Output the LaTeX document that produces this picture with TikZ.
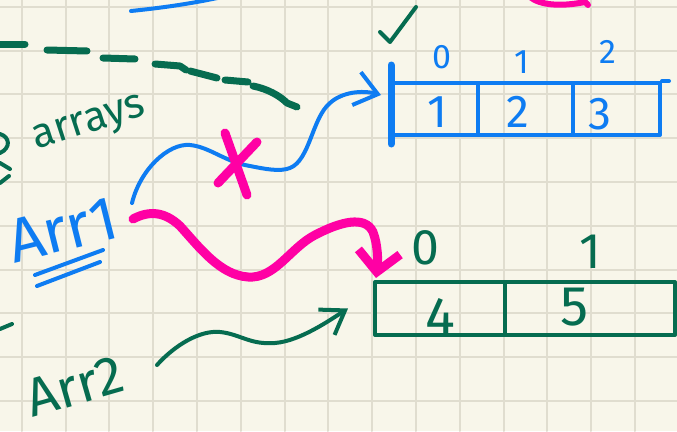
\documentclass[tikz,border=0pt]{standalone}
\usepackage{fontspec}
\setmainfont{Fira Sans}
\usetikzlibrary{arrows.meta}
\definecolor{paper}{RGB}{248,246,234}
\definecolor{gridline}{RGB}{224,221,207}
\definecolor{inkblue}{RGB}{14,124,242}
\definecolor{inkgreen}{RGB}{6,108,80}
\definecolor{inkpink}{RGB}{255,0,164}
\newcommand{\fsz}[1]{\fontsize{#1}{#1}\selectfont}
\begin{document}
\begin{tikzpicture}[x=1pt,y=-1pt,line cap=round,line join=round,
  blueink/.style={draw=inkblue,line width=4pt},
  greenink/.style={draw=inkgreen,line width=4pt},
  pinkink/.style={draw=inkpink,line width=9pt},
  dashbit/.style={draw=inkgreen,line width=7pt},
  cellA/.style={draw=inkblue,line width=4pt,minimum height=52pt,inner sep=0pt},
  cellB/.style={draw=inkgreen,line width=4pt,minimum height=53pt,inner sep=0pt},
  idxA/.style={text=inkblue,inner sep=0pt,font=\fsz{34}},
  valA/.style={text=inkblue,inner sep=0pt,font=\fsz{46}},
  idxB/.style={text=inkgreen,inner sep=0pt,font=\fsz{50}},
  valB/.style={text=inkgreen,inner sep=0pt,font=\fsz{56}}]
\useasboundingbox (0,0) rectangle (677,431);
\fill[paper] (0,0) rectangle (677,431);
\begin{scope}
\clip (0,0) rectangle (677,431);
% squared paper
\foreach \k in {0,...,15} \draw[gridline,line width=2pt] (21.7+43.8*\k,0) -- (21.7+43.8*\k,431);
\foreach \k in {0,...,9} \draw[gridline,line width=2pt] (0,6.7+43.8*\k) -- (677,6.7+43.8*\k);

% stray strokes along the edges
\draw[blueink] (131,11) .. controls (160,8) and (190,4) .. (222,-3);
\draw[draw=inkpink,line width=6pt] (530,-3) .. controls (540,5) and (560,7) .. (585,2) -- (588,5);
\draw[greenink] (0,134) .. controls (10,137) and (11,148) .. (0,153);
\draw[greenink] (0,163) -- (10,169);
\draw[greenink] (0,183) -- (9,176);
\draw[greenink] (0,329) -- (12,324);

% dashed green divider
\draw[dashbit] (-5,44) -- (25,44);
\draw[dashbit] (47,50) -- (87,51);
\draw[dashbit] (103,58) -- (135,59);
\draw[dashbit] (155,64) -- (180,66) -- (186,70);
\draw[dashbit] (190,71) -- (217,78);
\draw[dashbit] (225,80) -- (248,82);
\draw[dashbit] (253,86) .. controls (268,89) and (280,96) .. (287,103) -- (297,107);

% labels
\node[text=inkgreen,font=\fsz{42},rotate=18,anchor=base,inner sep=0pt] (lblarrays) at (92,132) {arrays};
\node[text=inkblue,font=\fsz{62},rotate=14,anchor=base,inner sep=0pt] (arr1) at (68,250) {Arr1};
\node[text=inkgreen,font=\fsz{54},rotate=16,anchor=base,inner sep=0pt] (arr2) at (80,404) {Arr2};
\draw[blueink] (35,275) -- (103,250);
\draw[blueink] (37,286) -- (100,262);

% check mark
\draw[greenink] (380,32) -- (390,42) -- (416,7);

% first array
\node[cellA,minimum width=85pt] (a0) at (435.5,109) {};
\node[cellA,minimum width=95pt] (a1) at (525.5,109) {};
\node[cellA,minimum width=87pt] (a2) at (616.5,109) {};
\draw[blueink] (a2.north east) -- ++(7,0);
\draw[draw=inkblue,line width=7pt] ([shift={(0,-16)}]a0.north west) -- ([shift={(0,7)}]a0.south west);
\node[idxA] (ia0) at (442,57) {0};
\node[idxA] (ia1) at (522,62) {1};
\node[idxA] (ia2) at (608,52) {2};
\node[valA] (va0) at (437,112) {1};
\node[valA] (va1) at (518,112) {2};
\node[valA] (va2) at (600,114) {3};

% second array
\node[cellB,minimum width=130pt] (b0) at (440,308.5) {};
\node[cellB,minimum width=170pt] (b1) at (590,308.5) {};
\node[idxB] (ib0) at (425,248) {0};
\node[idxB] (ib1) at (590,252) {1};
\node[valB] (vb0) at (440,317) {4};
\node[valB] (vb1) at (575,307) {5};

% reference arrows
\coordinate (arr1out) at (132,203);
\coordinate (arr1pink) at (133,219);
\coordinate (arr2out) at (157,365);
\coordinate (cross) at (237,163);

\draw[blueink,-{Straight Barb[length=22pt,width=34pt]}] (arr1out)
  .. controls (140,170) and (168,143) .. (190,145)
  .. controls (210,147) and (225,162) .. (250,166)
  .. controls (265,169) and (280,172) .. (290,168)
  .. controls (310,160) and (312,118) .. (330,103)
  .. controls (342,92) and (362,90) .. ([shift={(-10,-14)}]a0.west);

\draw[pinkink] ([shift={(-12,-30)}]cross) -- ([shift={(10,32)}]cross);
\draw[pinkink] ([shift={(20,-21)}]cross) -- ([shift={(-19,20)}]cross);

\draw[pinkink,-{Straight Barb[length=20pt,width=42pt]}] (arr1pink)
  .. controls (150,210) and (165,212) .. (180,226)
  .. controls (200,248) and (220,275) .. (248,277)
  .. controls (275,279) and (290,248) .. (315,235)
  .. controls (340,222) and (365,215) .. (373,232)
  .. controls (378,245) and (378,262) .. ([shift={(3,-2)}]b0.north west);

\draw[greenink,-{Straight Barb[length=22pt,width=30pt]}] (arr2out)
  .. controls (175,345) and (200,330) .. (220,332)
  .. controls (240,334) and (250,345) .. (275,343)
  .. controls (300,341) and (330,320) .. ([shift={(-25,0)}]b0.west);
\end{scope}
\end{tikzpicture}
\end{document}
